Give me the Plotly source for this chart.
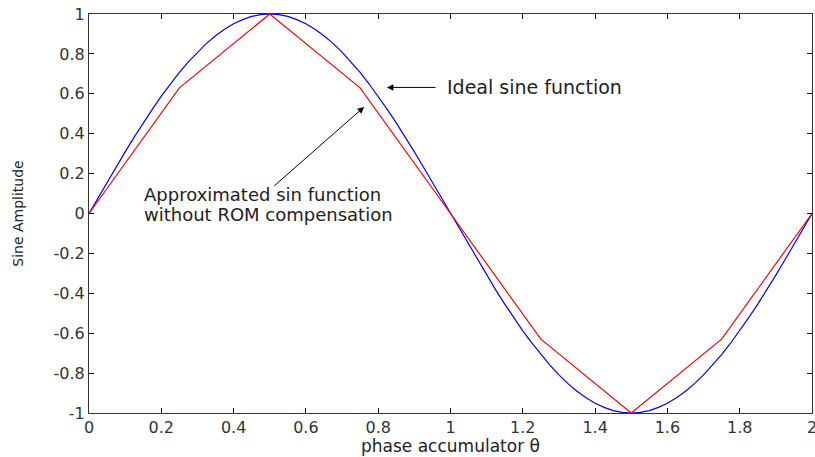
import plotly.graph_objects as go

# Ideal sine samples (phase step 0.025)
phase = [0.000, 0.025, 0.050, 0.075, 0.100, 0.125, 0.150, 0.175, 0.200, 0.225,
         0.250, 0.275, 0.300, 0.325, 0.350, 0.375, 0.400, 0.425, 0.450, 0.475,
         0.500, 0.525, 0.550, 0.575, 0.600, 0.625, 0.650, 0.675, 0.700, 0.725,
         0.750, 0.775, 0.800, 0.825, 0.850, 0.875, 0.900, 0.925, 0.950, 0.975,
         1.000, 1.025, 1.050, 1.075, 1.100, 1.125, 1.150, 1.175, 1.200, 1.225,
         1.250, 1.275, 1.300, 1.325, 1.350, 1.375, 1.400, 1.425, 1.450, 1.475,
         1.500, 1.525, 1.550, 1.575, 1.600, 1.625, 1.650, 1.675, 1.700, 1.725,
         1.750, 1.775, 1.800, 1.825, 1.850, 1.875, 1.900, 1.925, 1.950, 1.975,
         2.000]
ideal_sine = [0.000, 0.079, 0.156, 0.233, 0.309, 0.383, 0.454, 0.522, 0.588, 0.649,
              0.707, 0.760, 0.809, 0.853, 0.891, 0.924, 0.951, 0.972, 0.988, 0.997,
              1.000, 0.997, 0.988, 0.972, 0.951, 0.924, 0.891, 0.853, 0.809, 0.760,
              0.707, 0.649, 0.588, 0.522, 0.454, 0.383, 0.309, 0.233, 0.156, 0.079,
              0.000, -0.079, -0.156, -0.233, -0.309, -0.383, -0.454, -0.522, -0.588, -0.649,
              -0.707, -0.760, -0.809, -0.853, -0.891, -0.924, -0.951, -0.972, -0.988, -0.997,
              -1.000, -0.997, -0.988, -0.972, -0.951, -0.924, -0.891, -0.853, -0.809, -0.760,
              -0.707, -0.649, -0.588, -0.522, -0.454, -0.383, -0.309, -0.233, -0.156, -0.079,
              0.000]

# Piecewise-linear approximation (no ROM compensation)
approx_phase = [0.0, 0.25, 0.5, 0.75, 1.0, 1.25, 1.5, 1.75, 2.0]
approx_sine = [0.0, 0.63, 1.0, 0.63, 0.0, -0.63, -1.0, -0.63, 0.0]

x_tick_vals = [0, 0.2, 0.4, 0.6, 0.8, 1.0, 1.2, 1.4, 1.6, 1.8, 2.0]
x_tick_text = ["0", "0.2", "0.4", "0.6", "0.8", "1", "1.2", "1.4", "1.6", "1.8", "2"]
y_tick_vals = [-1, -0.8, -0.6, -0.4, -0.2, 0, 0.2, 0.4, 0.6, 0.8, 1]
y_tick_text = ["-1", "-0.8", "-0.6", "-0.4", "-0.2", "0", "0.2", "0.4", "0.6", "0.8", "1"]

FONT = "DejaVu Sans"
TXT = "#222222"

fig = go.Figure()
fig.add_trace(go.Scatter(x=phase, y=ideal_sine, mode="lines",
                         line=dict(color="#0000ff", width=1.2), showlegend=False))
fig.add_trace(go.Scatter(x=approx_phase, y=approx_sine, mode="lines",
                         line=dict(color="#ff0000", width=1.2), showlegend=False))

axis_common = dict(showgrid=False, zeroline=False, showline=True, linecolor="#333333",
                   linewidth=1, mirror="ticks", ticks="inside", ticklen=5,
                   tickcolor="#111111", ticklabeloverflow="allow", automargin=False,
                   tickfont=dict(family=FONT, size=16, color="#333333"))

fig.update_xaxes(range=[0, 2], tickvals=x_tick_vals, ticktext=x_tick_text, **axis_common)
fig.update_yaxes(range=[-1, 1], tickvals=y_tick_vals, ticktext=y_tick_text,
                 title=dict(text="Sine Amplitude", font=dict(family=FONT, size=14, color=TXT),
                            standoff=26),
                 **axis_common)

# x-axis title placed as paper-anchored text just under the tick labels
fig.add_annotation(x=0.5, y=-0.083, xref="paper", yref="paper", text="phase accumulator θ",
                   showarrow=False, xanchor="center", yanchor="middle",
                   font=dict(family=FONT, size=17, color=TXT))

fig.add_annotation(x=0.824, y=0.632, ax=0.963, ay=0.632, xref="x", yref="y", axref="x", ayref="y",
                   text="", showarrow=True, arrowhead=2, arrowsize=1.3, arrowwidth=1, arrowcolor="#000000")
fig.add_annotation(x=0.985, y=0.632, xref="x", yref="y", text="Ideal sine function",
                   showarrow=False, xanchor="left", yanchor="middle",
                   font=dict(family=FONT, size=19, color=TXT))
fig.add_annotation(x=0.761, y=0.534, ax=0.509, ay=0.133, xref="x", yref="y", axref="x", ayref="y",
                   text="", showarrow=True, arrowhead=2, arrowsize=1.3, arrowwidth=1, arrowcolor="#000000")
fig.add_annotation(x=0.147, y=0.093, xref="x", yref="y",
                   text="Approximated sin function",
                   showarrow=False, xanchor="left", yanchor="middle", align="left",
                   font=dict(family=FONT, size=18, color=TXT))
fig.add_annotation(x=0.147, y=-0.007, xref="x", yref="y",
                   text="without ROM compensation",
                   showarrow=False, xanchor="left", yanchor="middle", align="left",
                   font=dict(family=FONT, size=18, color=TXT))

fig.update_layout(width=815, height=457, paper_bgcolor="white", plot_bgcolor="white",
                  margin=dict(l=89, r=3, t=14, b=44, autoexpand=False))

fig.write_html("out.html")
